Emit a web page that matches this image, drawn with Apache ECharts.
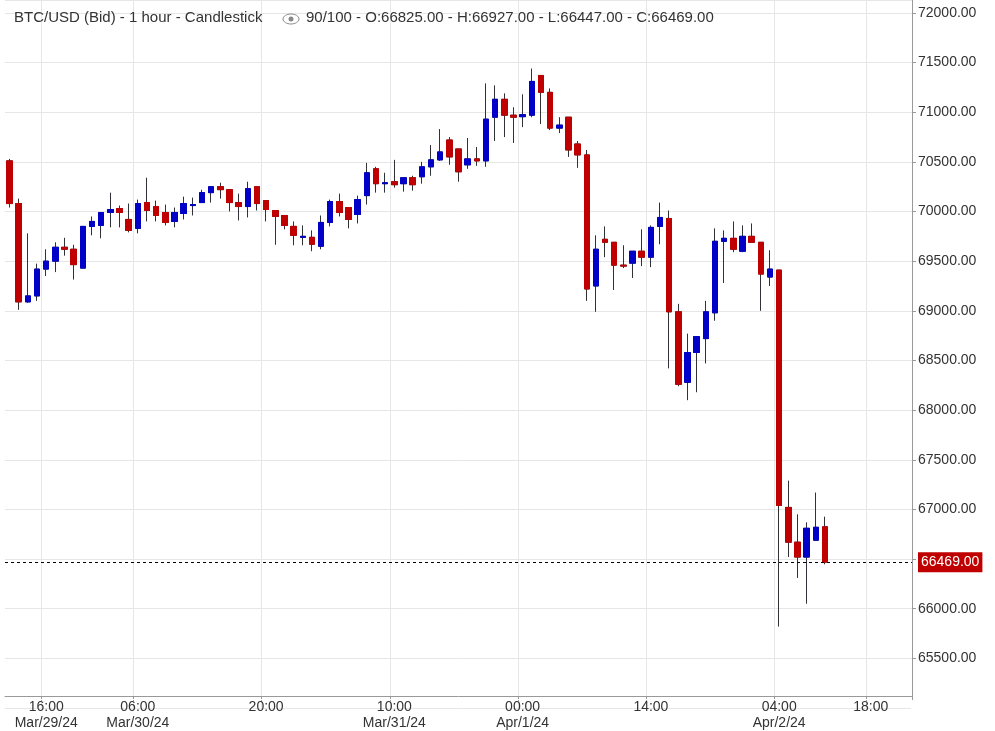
<!DOCTYPE html>
<html>
<head>
<meta charset="utf-8">
<script src="https://cdn.jsdelivr.net/npm/echarts@6/dist/echarts.min.js"></script>
<style>
  html, body { margin: 0; padding: 0; background: #fff; }
  #chart { width: 995px; height: 731px; }
</style>
</head>
<body>
<div id="chart"></div>
<script>
// OHLC values, one hourly candle each
const opens = [70510,70080,69090,69150,69420,69500,69640,69620,69430,69850,69860,69990,70030,69920,69830,70090,70050,69990,69900,69980,
  70060,70090,70190,70250,70220,70090,70050,70250,70110,70010,69960,69850,69740,69740,69650,69890,70100,70040,69970,70160,
  70430,70280,70300,70280,70340,70350,70450,70520,70720,70630,70470,70530,70510,70950,71130,70970,70955,70970,71370,71200,
  70840,70950,70680,70570,69250,69720,69690,69460,69480,69600,69540,69850,69930,68990,68280,68580,68720,68980,69700,69730,
  69600,69750,69690,69340,69410,67020,66670,66520,66690,66825];
const closes = [70080,69090,69150,69420,69500,69640,69620,69465,69850,69900,69990,70020,69990,69810,70080,70010,69960,69890,69990,70080,
  70070,70190,70250,70220,70090,70050,70230,70080,70020,69950,69860,69760,69750,69670,69890,70100,69990,69920,70120,70390,
  70280,70290,70270,70340,70270,70450,70520,70600,70550,70400,70530,70510,70930,71130,70970,70950,70975,71310,71200,70840,
  70870,70620,70570,69220,69620,69690,69460,69450,69600,69540,69840,69940,68990,68260,68580,68740,68990,69700,69730,69620,
  69750,69690,69370,69420,67040,66670,66520,66810,66820,66469];
const highs = [70530,70130,69780,69475,69620,69690,69735,69665,69850,69950,69990,70190,70060,70080,70120,70340,70110,70070,70040,70150,
  70140,70220,70250,70290,70220,70180,70300,70250,70110,70010,69960,69900,69860,69810,69960,70120,70180,70040,70160,70490,
  70450,70390,70520,70340,70360,70500,70670,70830,70750,70630,70740,70650,71290,71270,71190,71050,71180,71440,71370,71240,
  70950,70950,70710,70620,69760,69850,69690,69660,69600,69820,69860,70090,70010,69070,68770,68740,69100,69830,69810,69900,
  69860,69880,69690,69610,69410,67290,66950,66870,67170,66927];
const lows = [70040,69010,69080,69100,69350,69390,69555,69315,69430,69760,69730,69840,69840,69790,69780,69900,69900,69860,69840,69920,
  69960,70090,70090,70130,70000,69910,69940,70010,69900,69665,69820,69660,69660,69600,69620,69850,69950,69830,69880,70070,
  70190,70190,70240,70200,70210,70280,70360,70510,70470,70300,70430,70460,70450,70710,70750,70690,70850,70950,70880,70820,
  70790,70550,70440,69100,68990,69540,69210,69430,69330,69450,69440,69670,68420,68240,68100,68180,68470,68900,69280,69590,
  69590,69690,69000,69250,65820,66520,66310,66050,66690,66447];

const slotCount = 99;
const tickLabels = {
  4: "16:00\nMar/29/24", 14: "06:00\nMar/30/24", 28: "20:00", 42: "10:00\nMar/31/24",
  56: "00:00\nApr/1/24", 70: "14:00", 84: "04:00\nApr/2/24", 94: "18:00"
};
const lastPrice = 66469;

const RED = "#c00000", BLUE = "#0000c8", WICK = "#2f3337";

const cats = [];
for (let i = 0; i < slotCount; i++) cats.push(String(i));
const ohlc = opens.map((o, i) => [o, closes[i], lows[i], highs[i]]);
const isTick = (i) => tickLabels[i] !== undefined;

const chart = echarts.init(document.getElementById("chart"));
chart.setOption({
  animation: false,
  grid: { left: 5, right: 83, top: 0, bottom: 21 },
  xAxis: {
    type: "category",
    data: cats,
    boundaryGap: true,
    offset: -12,
    axisLine: { lineStyle: { color: "#999" } },
    axisTick: { show: true, interval: isTick, lineStyle: { color: "#999" } },
    axisLabel: {
      interval: isTick,
      formatter: (v, i) => tickLabels[i] || "",
      color: "#333", fontSize: 14, fontFamily: "Arial, Liberation Sans", lineHeight: 16, margin: 3
    },
    splitLine: { show: true, interval: isTick, lineStyle: { color: "#e6e6e6" } }
  },
  yAxis: {
    type: "value",
    position: "right",
    min: 65000, max: 72130, interval: 500,
    axisLine: { show: true, lineStyle: { color: "#999" } },
    axisTick: { show: true, length: 4, lineStyle: { color: "#999" } },
    axisLabel: {
      formatter: (v) => v.toFixed(2), color: "#333", fontSize: 14,
      fontFamily: "Arial, Liberation Sans", margin: 6
    },
    splitLine: { lineStyle: { color: "#e6e6e6" } }
  },
  graphic: [
    { type: "rect", z: 50, shape: { x: 911, y: 700, width: 90, height: 40 }, style: { fill: "#fff" } },
    { type: "rect", z: 50, shape: { x: 0, y: 699, width: 910, height: 1 }, style: { fill: "#fff" } },
    { type: "text", z: 60, left: 14, top: 10, style: { text: "BTC/USD (Bid) - 1 hour - Candlestick", fill: "#333", font: "15px Arial, Liberation Sans" } },
    { type: "ellipse", z: 60, shape: { cx: 291, cy: 19, rx: 8, ry: 5 }, style: { fill: "none", stroke: "#888", lineWidth: 1 } },
    { type: "circle", z: 60, shape: { cx: 291, cy: 19, r: 2.5 }, style: { fill: "#888" } },
    { type: "text", z: 60, left: 306, top: 10, style: { text: "90/100 - O:66825.00 - H:66927.00 - L:66447.00 - C:66469.00", fill: "#333", font: "15px Arial, Liberation Sans" } }
  ],
  series: [
    {
      type: "candlestick",
      data: ohlc,
      barWidth: 6,
      itemStyle: { color: WICK, color0: WICK, borderColor: WICK, borderColor0: WICK, borderWidth: 1 },
      markLine: {
        symbol: "none", silent: true,
        lineStyle: { color: "#000", type: [3, 3], width: 1 },
        label: {
          position: "end", formatter: lastPrice.toFixed(2), color: "#fff",
          backgroundColor: RED, padding: [3, 3], fontSize: 14, fontFamily: "Arial, Liberation Sans", distance: 6
        },
        data: [{ yAxis: lastPrice }]
      }
    },
    {
      type: "candlestick",
      data: opens.map((o, i) => [o, closes[i], Math.min(o, closes[i]), Math.max(o, closes[i])]),
      barWidth: 6,
      itemStyle: { color: BLUE, color0: RED, borderColor: BLUE, borderColor0: RED, borderWidth: 1 }
    }
  ]
});
</script>
</body>
</html>
